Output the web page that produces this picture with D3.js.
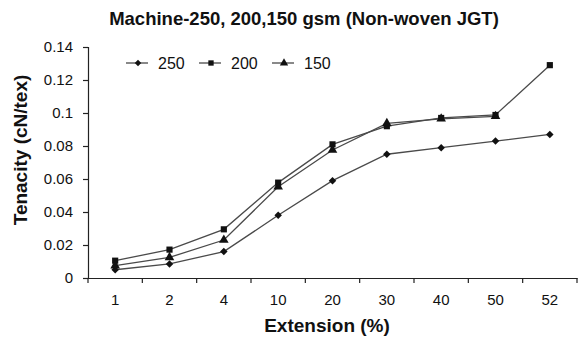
<!DOCTYPE html>
<html>
<head>
<meta charset="utf-8">
<script src="https://cdn.jsdelivr.net/npm/d3@7"></script>
<style>
  html, body { margin: 0; padding: 0; background: #fff; }
  svg { display: block; font-family: "Liberation Sans", Arial, sans-serif; }
</style>
</head>
<body>
<svg id="chart" width="578" height="341"></svg>
<script>
// Extension levels (%) on the category axis
const categories = ["1", "2", "4", "10", "20", "30", "40", "50", "52"];

// Tenacity (cN/tex) for each fabric weight
const series250 = [0.005, 0.0085, 0.016, 0.038, 0.059, 0.075, 0.079, 0.083, 0.087];
const series200 = [0.0105, 0.0172, 0.0295, 0.0578, 0.081, 0.092, 0.097, 0.0988, 0.129];
const series150 = [0.0075, 0.0125, 0.023, 0.0553, 0.0776, 0.0937, 0.0965, 0.098, null];

const seriesNames = ["250", "200", "150"];

const yTickValues = [0, 0.02, 0.04, 0.06, 0.08, 0.1, 0.12, 0.14];
const yTickLabels = ["0", "0.02", "0.04", "0.06", "0.08", "0.1", "0.12", "0.14"];

const titleText = "Machine-250, 200,150 gsm (Non-woven JGT)";
const xTitle = "Extension (%)";
const yTitle = "Tenacity (cN/tex)";

// Marker shapes: diamond (square turned 45°), square, triangle
const markerDefs = [
  { type: d3.symbolSquare, size: 28, rotate: 45 },
  { type: d3.symbolSquare, size: 38, rotate: 0 },
  { type: d3.symbolTriangle, size: 40, rotate: 0 }
];

const svg = d3.select("#chart");
const plot = { left: 88, right: 577, top: 47, bottom: 278 };

const x = d3.scaleBand().domain(categories).range([plot.left, plot.right]).padding(0);
const xEdge = d3.scaleLinear().domain([0, categories.length]).range([plot.left, plot.right]);
const y = d3.scaleLinear().domain([0, 0.14]).range([plot.bottom, plot.top]);

const axisColor = "#222";
const tickFont = "15px";

// Y axis
const yAxis = svg.append("g")
  .attr("transform", `translate(${plot.left},0)`)
  .call(d3.axisLeft(y).tickValues(yTickValues)
    .tickFormat((d, i) => yTickLabels[i]).tickSize(5).tickPadding(10));
yAxis.select(".domain").attr("stroke", axisColor).attr("stroke-width", 1.2);
yAxis.selectAll(".tick line").attr("stroke", axisColor).attr("stroke-width", 1.2);
yAxis.selectAll(".tick text").attr("fill", "#111").style("font-size", tickFont)
  .style("font-family", "'Liberation Sans', Arial, sans-serif");

// X axis: labels under each category, tick marks at category boundaries
const xAxis = svg.append("g")
  .attr("transform", `translate(0,${plot.bottom})`)
  .call(d3.axisBottom(x).tickSize(0).tickPadding(16));
xAxis.select(".domain").attr("stroke", axisColor).attr("stroke-width", 1.2);
xAxis.selectAll(".tick text").attr("fill", "#111").style("font-size", tickFont)
  .style("font-family", "'Liberation Sans', Arial, sans-serif");
svg.append("g").selectAll("line")
  .data(d3.range(categories.length + 1))
  .join("line")
  .attr("x1", d => xEdge(d)).attr("x2", d => xEdge(d))
  .attr("y1", plot.bottom).attr("y2", plot.bottom + 5)
  .attr("stroke", axisColor).attr("stroke-width", 1.2);

// Series lines and markers
const allSeries = [series250, series200, series150];
const cx = (d, i) => x(categories[i]) + x.bandwidth() / 2;
const line = d3.line()
  .defined(d => d != null)
  .x((d, i) => cx(d, i))
  .y(d => y(d));

allSeries.forEach(vals => {
  svg.append("path")
    .datum(vals)
    .attr("d", line)
    .attr("fill", "none")
    .attr("stroke", "#4a4a4a")
    .attr("stroke-width", 1.3);
});

allSeries.forEach((vals, si) => {
  const m = markerDefs[si];
  const sym = d3.symbol().type(m.type).size(m.size);
  svg.append("g").selectAll("path")
    .data(vals.map((v, i) => ({ v, i })).filter(d => d.v != null))
    .join("path")
    .attr("transform", d => `translate(${cx(d.v, d.i)},${y(d.v)}) rotate(${m.rotate})`)
    .attr("d", sym)
    .attr("fill", "#111");
});

// Legend
const legendY = 63;
const legendX = [126, 199, 272];
seriesNames.forEach((name, si) => {
  const m = markerDefs[si];
  const g = svg.append("g").attr("transform", `translate(${legendX[si]},${legendY})`);
  g.append("line").attr("x1", 0).attr("x2", 22).attr("y1", 0).attr("y2", 0)
    .attr("stroke", "#4a4a4a").attr("stroke-width", 1.3);
  g.append("path").attr("transform", `translate(12,0) rotate(${m.rotate})`)
    .attr("d", d3.symbol().type(m.type).size(m.size * 0.75))
    .attr("fill", "#111");
  g.append("text").attr("x", 32).attr("y", 0).attr("dy", "0.35em")
    .style("font-size", "16px").attr("fill", "#111").text(name);
});

// Titles
svg.append("text")
  .attr("x", 304).attr("y", 25)
  .attr("text-anchor", "middle")
  .style("font-size", "18.5px").style("font-weight", "bold").attr("fill", "#111")
  .text(titleText);

svg.append("text")
  .attr("x", 327).attr("y", 332)
  .attr("text-anchor", "middle")
  .style("font-size", "19px").style("font-weight", "bold").attr("fill", "#111")
  .text(xTitle);

svg.append("text")
  .attr("transform", "translate(27,150) rotate(-90)")
  .attr("text-anchor", "middle")
  .style("font-size", "19px").style("font-weight", "bold").attr("fill", "#111")
  .text(yTitle);
</script>
</body>
</html>
